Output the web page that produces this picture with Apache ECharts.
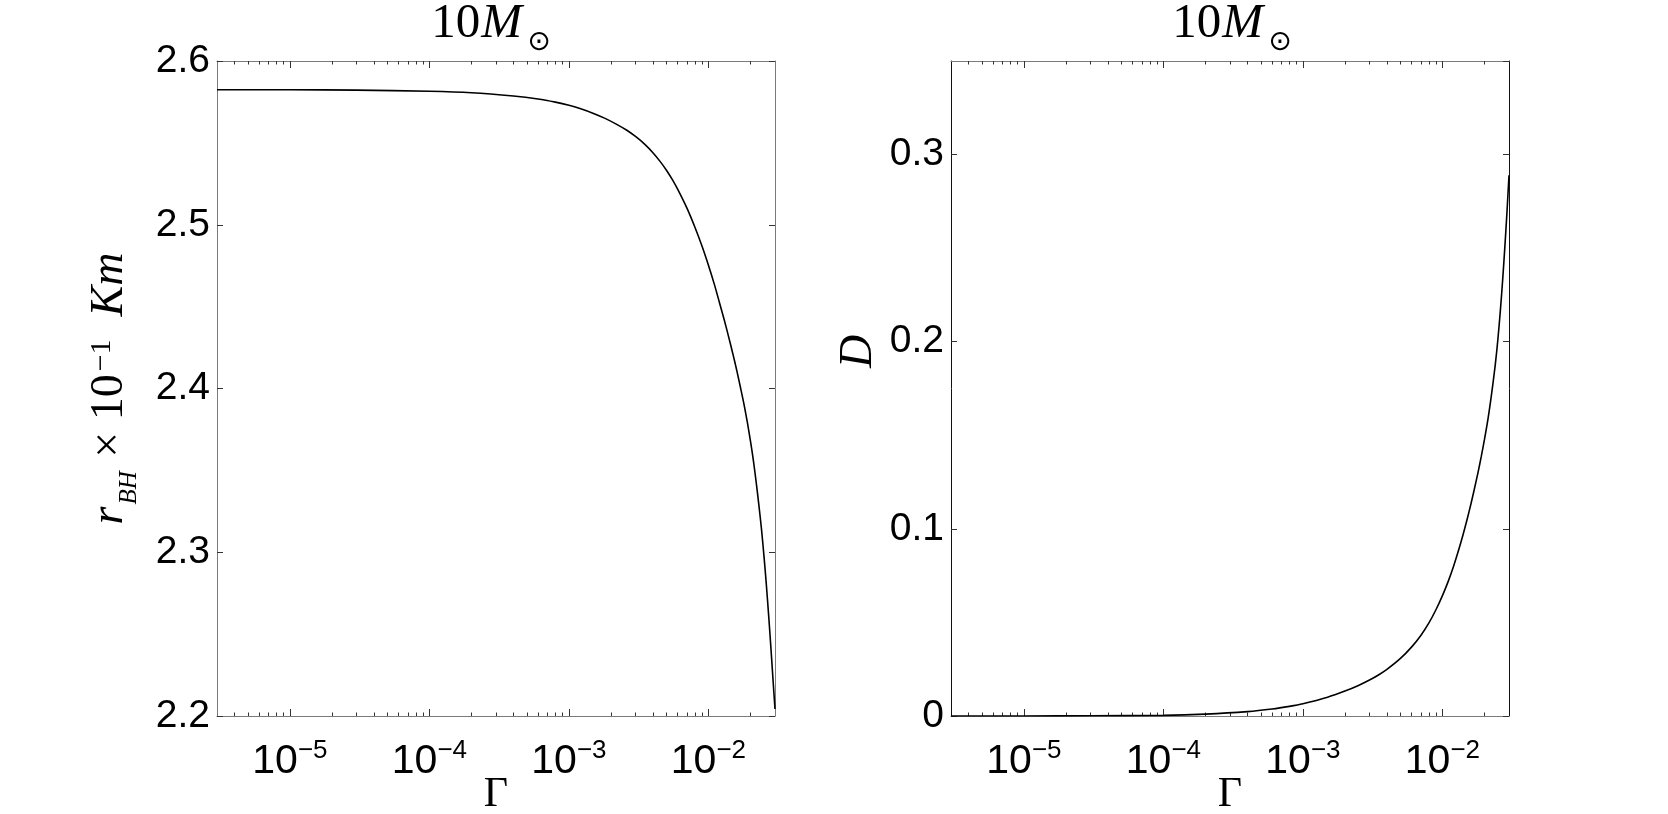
<!DOCTYPE html>
<html>
<head>
<meta charset="utf-8">
<script src="https://cdn.jsdelivr.net/npm/echarts@6/dist/echarts.min.js"></script>
<style>
html, body { margin: 0; padding: 0; background: #fff; }
#chart { width: 1668px; height: 814px; }
</style>
</head>
<body>
<div id="chart"></div>
<script>
// Gamma values and r_BH (x 10^-1 Km)
const gammaR = [3e-6, 1e-5, 3e-5, 1e-4, 2e-4, 4e-4, 6e-4, 8e-4, 1e-3, 1.2e-3, 1.5e-3, 1.8e-3, 2.2e-3, 2.6e-3,
    3e-3, 3.5e-3, 4e-3, 4.5e-3, 5e-3, 5.5e-3, 6e-3, 7e-3, 8e-3, 9e-3, 1e-2, 1.1e-2, 1.2e-2, 1.3e-2,
    1.4e-2, 1.5e-2, 1.6e-2, 1.7e-2, 1.8e-2, 1.9e-2, 2e-2, 2.1e-2, 2.2e-2, 2.3e-2, 2.4e-2, 2.5e-2,
    2.6e-2, 2.7e-2, 2.8e-2, 2.9e-2, 3e-2]
const radius = [2.5824, 2.5824, 2.5822, 2.5815, 2.5806, 2.5786, 2.5768, 2.5749, 2.5730, 2.5710, 2.5680, 2.5651, 2.5613, 2.5577,
    2.5539, 2.5491, 2.5440, 2.5387, 2.5333, 2.5277, 2.5219, 2.5103, 2.4985, 2.4869, 2.4753, 2.4639, 2.4524, 2.4417,
    2.4311, 2.4208, 2.4106, 2.4003, 2.3902, 2.3794, 2.3680, 2.3560, 2.3426, 2.3286, 2.3141, 2.2978,
    2.2803, 2.2617, 2.2424, 2.2228, 2.2043]

// Gamma values and D
const gammaD = [3e-6, 1e-5, 3e-5, 1e-4, 2e-4, 4e-4, 6e-4, 8e-4, 1e-3, 1.5e-3, 2e-3, 2.5e-3, 3e-3, 3.5e-3,
    4e-3, 5e-3, 6e-3, 7e-3, 8e-3, 9e-3, 1e-2, 1.1e-2, 1.2e-2, 1.3e-2, 1.4e-2, 1.5e-2, 1.6e-2, 1.7e-2,
    1.8e-2, 1.9e-2, 2e-2, 2.1e-2, 2.2e-2, 2.3e-2, 2.4e-2, 2.5e-2, 2.6e-2, 2.7e-2, 2.8e-2, 2.9e-2, 3e-2]
const dist = [0, 0.00003, 0.0001, 0.00036, 0.00102, 0.00233, 0.00371, 0.00513, 0.00653, 0.01002, 0.01332, 0.01633, 0.0192, 0.02204,
    0.0249, 0.03075, 0.03681, 0.04304, 0.04973, 0.0569, 0.06434, 0.07195, 0.0799, 0.08812, 0.09642, 0.10484, 0.11326, 0.12182,
    0.1302, 0.13885, 0.14766, 0.1567, 0.16682, 0.1775, 0.18865, 0.20174, 0.21645, 0.23274, 0.25043, 0.26902, 0.28897]

// log axis ticks
const decadeTicks = [1e-5, 1e-4, 1e-3, 1e-2]
const minorTicks = [4e-6, 5e-6, 6e-6, 7e-6, 8e-6, 9e-6,
    2e-5, 3e-5, 4e-5, 5e-5, 6e-5, 7e-5, 8e-5, 9e-5,
    2e-4, 3e-4, 4e-4, 5e-4, 6e-4, 7e-4, 8e-4, 9e-4,
    2e-3, 3e-3, 4e-3, 5e-3, 6e-3, 7e-3, 8e-3, 9e-3,
    2e-2]

const sans = 'Liberation Sans'
const serif = 'Liberation Serif'
const axisGray = '#7a7a7a'

function xAxis(grid, pos, ticks, len, withLabel, lineColor) {
    return {
        type: 'log',
        gridIndex: grid,
        position: pos,
        min: 3e-6,
        max: 3e-2,
        logBase: 10,
        axisLine: { show: !!lineColor, lineStyle: { color: lineColor || '#000', width: 1 } },
        axisTick: {
            show: true,
            inside: true,
            length: len,
            customValues: ticks,
            lineStyle: { color: '#333', width: 1 }
        },
        axisLabel: withLabel ? {
            show: true,
            margin: 22,
            customValues: decadeTicks,
            formatter: function(v) {
                return '{b|10}{s|−' + (-Math.round(Math.log10(v))) + '}'
            },
            rich: {
                b: { fontFamily: sans, fontSize: 41, color: '#000', lineHeight: 44, verticalAlign: 'bottom' },
                s: { fontFamily: sans, fontSize: 26, color: '#000', lineHeight: 26, verticalAlign: 'top', padding: [0, 0, 27, 0] }
            }
        } : { show: false },
        splitLine: { show: false },
        name: withLabel ? 'Γ' : '',
        nameLocation: 'middle',
        nameGap: 58,
        nameMoveOverlap: false,
        nameTextStyle: { fontFamily: serif, fontSize: 42, color: '#000' }
    }
}

function yAxis(grid, pos, min, max, withLabel, lineColor, name, nameGap, namePad) {
    return {
        type: 'value',
        gridIndex: grid,
        position: pos,
        min: min,
        max: max,
        interval: 0.1,
        axisLine: { show: true, lineStyle: { color: lineColor, width: 1 } },
        axisTick: { show: true, inside: true, length: 6, lineStyle: { color: '#333' } },
        axisLabel: {
            show: withLabel,
            margin: 7,
            fontFamily: sans,
            fontSize: 39,
            color: '#000',
            showMaxLabel: max === 0.35 ? false : true
        },
        splitLine: { show: false },
        name: name || '',
        nameLocation: 'middle',
        nameRotate: 90,
        nameGap: nameGap || 0,
        nameMoveOverlap: false,
        nameTextStyle: {
            padding: namePad || 0,
            rich: {
                r: { fontFamily: serif, fontStyle: 'italic', fontSize: 46, color: '#000', lineHeight: 52, verticalAlign: 'top' },
                sub: { fontFamily: serif, fontStyle: 'italic', fontSize: 25, color: '#000', lineHeight: 25, verticalAlign: 'top', padding: [30, 2, 0, 2] },
                t: { fontFamily: serif, fontSize: 46, color: '#000', lineHeight: 52, verticalAlign: 'top' },
                sup: { fontFamily: serif, fontSize: 30, color: '#000', lineHeight: 30, verticalAlign: 'top', padding: [0, 0, 0, 3] },
                k: { fontFamily: serif, fontStyle: 'italic', fontSize: 46, color: '#000', lineHeight: 52, verticalAlign: 'top' },
                d: { fontFamily: serif, fontStyle: 'italic', fontSize: 46, color: '#000', lineHeight: 52 }
            }
        }
    }
}

function titleText(x) {
    return {
        type: 'text',
        x: x,
        y: 0,
        style: {
            text: '{n|10}{m|M}{s|⊙}',
            align: 'center',
            verticalAlign: 'top',
            rich: {
                n: { fontFamily: serif, fontSize: 49, fill: '#000', lineHeight: 52, verticalAlign: 'top' },
                m: { fontFamily: serif, fontStyle: 'italic', fontSize: 49, fill: '#000', lineHeight: 52, verticalAlign: 'top', padding: [0, 3, 0, 1] },
                s: { fontFamily: 'DejaVu Sans', fontSize: 28, fill: '#000', lineHeight: 28, verticalAlign: 'top', padding: [29, 0, 0, 2] }
            }
        }
    }
}

let chart = echarts.init(document.getElementById('chart'))
let option = {
    backgroundColor: '#fff',
    animation: false,
    grid: [
        { left: 217, top: 61, width: 558, height: 655, outerBoundsMode: 'none', containLabel: false },
        { left: 951, top: 61, width: 558, height: 655, outerBoundsMode: 'none', containLabel: false }
    ],
    graphic: [titleText(491), titleText(1232)],
    xAxis: [
        xAxis(0, 'bottom', decadeTicks, 7, true, axisGray),
        xAxis(0, 'bottom', minorTicks, 3.5, false, null),
        xAxis(0, 'top', decadeTicks, 7, false, axisGray),
        xAxis(0, 'top', minorTicks, 3.5, false, null),
        xAxis(1, 'bottom', decadeTicks, 7, true, axisGray),
        xAxis(1, 'bottom', minorTicks, 3.5, false, null),
        xAxis(1, 'top', decadeTicks, 7, false, axisGray),
        xAxis(1, 'top', minorTicks, 3.5, false, null)
    ],
    yAxis: [
        yAxis(0, 'left', 2.2, 2.6, true, axisGray, '{r|r}{sub|BH}{t| × 10}{sup|−1}{k|  Km}', 78),
        yAxis(0, 'right', 2.2, 2.6, false, axisGray),
        yAxis(1, 'left', 0, 0.35, true, '#111', '{d|D}', 66, [0, 0, 0, 74]),
        yAxis(1, 'right', 0, 0.35, false, '#111')
    ],
    series: [
        {
            type: 'line',
            xAxisIndex: 0,
            yAxisIndex: 0,
            data: gammaR.map((g, i) => [g, radius[i]]),
            showSymbol: false,
            smooth: 0.3,
            lineStyle: { color: '#000', width: 1.6 }
        },
        {
            type: 'line',
            xAxisIndex: 4,
            yAxisIndex: 2,
            data: gammaD.map((g, i) => [g, dist[i]]),
            showSymbol: false,
            smooth: 0.3,
            lineStyle: { color: '#000', width: 1.6 }
        }
    ]
}
chart.setOption(option)
window.onresize = function() {
    chart.resize()
}
</script>
</body>
</html>
